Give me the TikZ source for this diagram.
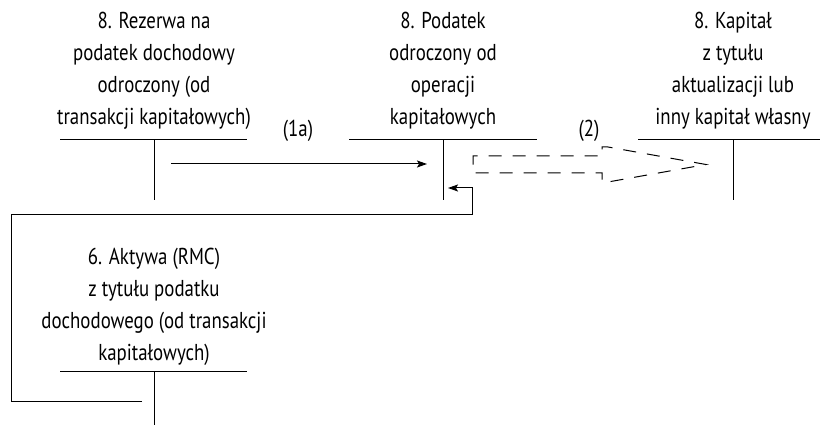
\documentclass[tikz,border=0pt]{standalone}
\usepackage{fontspec}
\setmainfont{PT Sans}[FakeStretch=0.82]
\usetikzlibrary{arrows.meta}
\begin{document}
\begin{tikzpicture}[x=1pt,y=-1pt,
  lbl/.style={align=center,anchor=base,inner sep=0pt,font=\fontsize{23}{32.3}\selectfont},
  tag/.style={anchor=base,inner sep=0pt,font=\fontsize{23}{25}\selectfont},
  tline/.style={line width=1pt},
  flow/.style={line width=1pt,-{Stealth[length=10pt,width=7pt,inset=2pt]}},
  hollow/.style={line width=1pt,dash pattern=on 13pt off 11pt,line join=miter}]
\useasboundingbox (0,0) rectangle (820,427);

% account titles (anchored at the baseline of the last line)
\node[lbl] (rez) at (154,125) {8. Rezerwa na\\podatek dochodowy\\odroczony (od\\transakcji kapitałowych)};
\node[lbl] (pod) at (443,125) {8. Podatek\\odroczony od\\operacji\\kapitałowych};
\node[lbl] (kap) at (733,125) {8. Kapitał\\z tytułu\\aktualizacji lub\\inny kapitał własny};
\node[lbl] (akt) at (154,361) {6. Aktywa (RMC)\\z tytułu podatku\\dochodowego (od transakcji\\kapitałowych)};

% T-account lines
\coordinate (rezL) at (60,140);  \coordinate (rezR) at (247,140);
\coordinate (rezT) at (154,140); \coordinate (rezB) at (154,200);
\coordinate (podL) at (349,140); \coordinate (podR) at (537,140);
\coordinate (podT) at (443,140); \coordinate (podB) at (443,200);
\coordinate (kapL) at (638,140); \coordinate (kapR) at (820,140);
\coordinate (kapT) at (733,140); \coordinate (kapB) at (733,200);
\coordinate (aktL) at (60,372);  \coordinate (aktR) at (247,372);
\coordinate (aktT) at (154,372); \coordinate (aktB) at (154,425);
\foreach \t in {rez,pod,kap,akt}
  \draw[tline] (\t L) -- (\t R) (\t T) -- (\t B);

% (1a): deferred tax reserve to deferred tax account
\coordinate (a1s) at (171,164);
\coordinate (a1e) at (427,164);
\draw[flow] (a1s) -- (a1e);
\node[tag] (l1a) at (298,137) {(1a)};

% return from the asset account
\coordinate (r0) at (142,402);
\coordinate (r1) at (11,402);
\coordinate (r2) at (11,215);
\coordinate (r3) at (472,215);
\coordinate (r4) at (472,188);
\coordinate (r5) at (448,188);
\draw[flow] (r0) -- (r1) -- (r2) -- (r3) -- (r4) -- (r5);

% (2): dashed hollow arrow to equity, started mid-way up its tail end
\coordinate (hs) at (473,164.5);
\coordinate (h0) at (473,156);
\coordinate (h1) at (602,156);
\coordinate (h2) at (602,147);
\coordinate (h3) at (608,147);
\coordinate (h4) at (706,164.5);
\coordinate (h5) at (608,182);
\coordinate (h6) at (602,182);
\coordinate (h7) at (602,173);
\coordinate (h8) at (473,173);
\draw[hollow] (hs) -- (h0) -- (h1) -- (h2) -- (h3) -- (h4) -- (h5) -- (h6) -- (h7) -- (h8) -- cycle;
\node[tag] (l2) at (589,137) {(2)};
\end{tikzpicture}
\end{document}
